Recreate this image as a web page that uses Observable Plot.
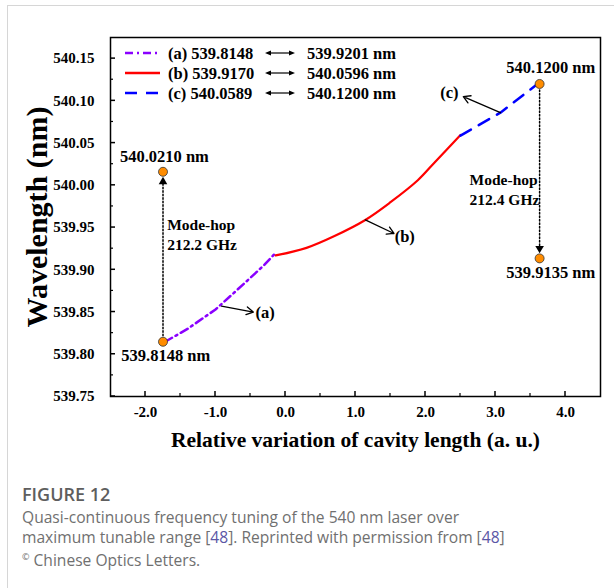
<!DOCTYPE html>
<html><head><meta charset="utf-8">
<script src="https://cdn.jsdelivr.net/npm/d3@7"></script>
<script src="https://cdn.jsdelivr.net/npm/@observablehq/plot@0.6"></script>
<style>
body{margin:0;background:#fff;}
#card{position:absolute;left:7px;top:5px;width:640px;height:640px;border-left:1px solid #d6d6d6;border-top:1px solid #d6d6d6;}
#chart{position:absolute;left:0;top:0;}
#cap{position:absolute;left:22px;top:482px;width:500px;font-family:"Open Sans";color:#707070;}
#cap .fig{font-size:18px;font-weight:600;color:#5e5e5e;margin-bottom:1px;}
#cap .txt{font-size:15.6px;line-height:20px;font-weight:400;}
#cap .ref{color:#5b57a6;}
</style></head><body>
<div id="card"></div>
<div id="chart"></div>
<div id="cap"><div class="fig">FIGURE 12</div><div class="txt">Quasi-continuous frequency tuning of the 540 nm laser over<br>maximum tunable range [<span class="ref">48</span>]. Reprinted with permission from [<span class="ref">48</span>]<br><sup style="font-size:9px">©</sup> Chinese Optics Letters.</div></div>
<script>
// ---- data ----
const seriesA_x = [-1.72, -1.4, -1.0, -0.6, -0.3, -0.14];
const seriesA_y = [539.8148, 539.830, 539.853, 539.883, 539.906, 539.9201];
const seriesB_x = [-0.14, 0.3, 0.7, 1.14, 1.5, 1.89, 2.14, 2.5];
const seriesB_y = [539.917, 539.926, 539.940, 539.959, 539.980, 540.006, 540.028, 540.0596];
const seriesC_x = [2.5, 3.07, 3.6];
const seriesC_y = [540.0589, 540.086, 540.12];
const hopX = [-1.75, -1.75, 3.63, 3.63];
const hopY = [539.8148, 540.016, 540.12, 539.9135];
const legendNames = ["(a) 539.8148", "(b) 539.9170", "(c) 540.0589"];
const legendEnds = ["539.9201 nm", "540.0596 nm", "540.1200 nm"];
const legendColors = ["#8a00ff", "#ff0000", "#0000ff"];
const legendDash = ["8,4,2,4", null, "12,9"];
const xMajor = [-2, -1, 0, 1, 2, 3, 4];
const xMinor = [-1.5, -0.5, 0.5, 1.5, 2.5, 3.5];
const yMajor = [539.75, 539.80, 539.85, 539.90, 539.95, 540.00, 540.05, 540.10, 540.15];
const yMinor = [539.775, 539.825, 539.875, 539.925, 539.975, 540.025, 540.075, 540.125];
const xLabel = "Relative variation of cavity length (a. u.)";
const yLabel = "Wavelength (nm)";
// annotations
const valueLabels = ["540.0210 nm", "539.8148 nm", "540.1200 nm", "539.9135 nm"];
const valueLabelX = [-1.73, -1.71, 3.79, 3.79];
const valueLabelY = [540.034, 539.7985, 540.139, 539.897];
const hopText = ["Mode-hop\n212.2 GHz", "Mode-hop\n212.4 GHz"];
const hopTextX = [-1.69, 2.63];
const hopTextY = [539.943, 539.996];
const tagNames = ["(a)", "(b)", "(c)"];
const tagX = [-0.43, 1.56, 2.21];
const tagY = [539.849, 539.939, 540.110];
const tagArrowX1 = [-0.914, 1.14, 3.07];
const tagArrowY1 = [539.857, 539.959, 540.086];
const tagArrowX2 = [-0.46, 1.55, 2.54];
const tagArrowY2 = [539.850, 539.943, 540.105];

const A = seriesA_x.map((x, i) => ({x, y: seriesA_y[i]}));
const B = seriesB_x.map((x, i) => ({x, y: seriesB_y[i]}));
const C = seriesC_x.map((x, i) => ({x, y: seriesC_y[i]}));
const pts = hopX.map((x, i) => ({x, y: hopY[i]}));
const hops = [
  {x: hopX[0], y1: hopY[0], y2: hopY[1]},
  {x: hopX[2], y1: hopY[2], y2: hopY[3]}
];
const vals = valueLabels.map((t, i) => ({t, x: valueLabelX[i], y: valueLabelY[i]}));
const hopT = hopText.map((t, i) => ({t, x: hopTextX[i], y: hopTextY[i]}));
const tags = tagNames.map((t, i) => ({t, x: tagX[i], y: tagY[i], x1: tagArrowX1[i], y1: tagArrowY1[i], x2: tagArrowX2[i], y2: tagArrowY2[i]}));

const F = "Liberation Serif";
const chart = Plot.plot({
  width: 614, height: 462,
  marginLeft: 110, marginRight: 14, marginTop: 37, marginBottom: 66,
  style: {fontFamily: F, fontWeight: "bold", fontSize: "15px", color: "black", background: "transparent"},
  x: {domain: [-2.5, 4.5]},
  y: {domain: [539.75, 540.175]},
  marks: [
    Plot.axisX({ticks: xMajor, tickSize: 0, tickPadding: 10, tickFormat: d => d.toFixed(1), label: null}),
    Plot.axisY({ticks: yMajor, tickSize: 0, tickPadding: 16, tickFormat: d => d.toFixed(2), label: null}),
    Plot.frame({stroke: "black", strokeWidth: 1.5}),
    Plot.text([xLabel], {frameAnchor: "bottom", dy: 44, text: d => d, fontSize: 21.5, fontWeight: "bold", lineAnchor: "middle", textAnchor: "middle"}),
    Plot.text([yLabel], {frameAnchor: "left", dx: -73, rotate: -90, text: d => d, fontSize: 30, fontWeight: "bold", lineAnchor: "middle", textAnchor: "middle"}),
    Plot.line(A, {x: "x", y: "y", stroke: legendColors[0], strokeWidth: 2.5, strokeDasharray: legendDash[0]}),
    Plot.line(B, {x: "x", y: "y", stroke: legendColors[1], strokeWidth: 2.2, curve: "catmull-rom"}),
    Plot.line(C, {x: "x", y: "y", stroke: legendColors[2], strokeWidth: 2.5, strokeDasharray: legendDash[2]}),
    Plot.arrow(hops, {x: "x", y1: "y1", y2: "y2", stroke: "black", strokeWidth: 1.5, strokeDasharray: "1.5,2", headLength: 0, insetStart: 6, insetEnd: 12}),
    Plot.dot([hops[0]], {x: "x", y: "y2", symbol: "triangle", r: 3.2, fill: "black", stroke: "none", dy: 10}),
    Plot.dot([hops[1]], {x: "x", y: "y2", symbol: "triangle", r: 3.2, fill: "black", stroke: "none", rotate: 180, dy: -10}),
    Plot.arrow(tags, {x1: "x1", y1: "y1", x2: "x2", y2: "y2", stroke: "black", strokeWidth: 1.3, headLength: 9, bend: 0}),
    Plot.dot(pts, {x: "x", y: "y", r: 4.5, fill: "#ff8c00", stroke: "#333", strokeWidth: 0.8}),
    Plot.text(vals, {x: "x", y: "y", text: "t", fontSize: 16.5, fontWeight: "bold"}),
    Plot.text(hopT, {x: "x", y: "y", text: "t", fontSize: 15.5, fontWeight: "bold", textAnchor: "start", lineHeight: 1.3}),
    Plot.text(tags, {x: "x", y: "y", text: "t", fontSize: 16.5, fontWeight: "bold", textAnchor: "start"})
  ]
});
document.getElementById("chart").appendChild(chart);

const svg = d3.select(chart);
// tick label font size
svg.selectAll("g[aria-label='x-axis tick label'], g[aria-label='y-axis tick label']")
  .attr("font-size", 15).style("font-size", "15px");

// inward ticks through Plot's scales
const sx = chart.scale("x"), sy = chart.scale("y");
const fBottom = sy.apply(539.75), fLeft = sx.apply(-2.5);
const tg = svg.append("g").attr("stroke", "black");
xMajor.forEach(v => { const p = sx.apply(v); tg.append("line").attr("x1", p).attr("x2", p).attr("y1", fBottom).attr("y2", fBottom - 5).attr("stroke-width", 1.5); });
xMinor.forEach(v => { const p = sx.apply(v); tg.append("line").attr("x1", p).attr("x2", p).attr("y1", fBottom).attr("y2", fBottom - 3).attr("stroke-width", 1.2); });
yMajor.forEach(v => { const p = sy.apply(v); tg.append("line").attr("y1", p).attr("y2", p).attr("x1", fLeft).attr("x2", fLeft + 5).attr("stroke-width", 1.5); });
yMinor.forEach(v => { const p = sy.apply(v); tg.append("line").attr("y1", p).attr("y2", p).attr("x1", fLeft).attr("x2", fLeft + 3).attr("stroke-width", 1.2); });

// legend
const g = svg.append("g").attr("font-family", F).attr("font-weight", "bold").attr("font-size", 16.5).attr("text-anchor", "start");
legendNames.forEach((name, i) => {
  const y = 53 + i * 20;
  const l = g.append("line").attr("x1", 125).attr("x2", 160).attr("y1", y).attr("y2", y)
    .attr("stroke", legendColors[i]).attr("stroke-width", 2.5);
  if (legendDash[i]) l.attr("stroke-dasharray", legendDash[i]);
  g.append("text").attr("x", 168).attr("y", y).attr("dy", "0.35em").text(name);
  g.append("line").attr("x1", 268).attr("x2", 292).attr("y1", y).attr("y2", y).attr("stroke", "black").attr("stroke-width", 1.2);
  g.append("path").attr("d", `M265,${y}l6,-2.5v5z M295,${y}l-6,-2.5v5z`).attr("fill", "black");
  g.append("text").attr("x", 307).attr("y", y).attr("dy", "0.35em").text(legendEnds[i]);
});
</script>
</body></html>
